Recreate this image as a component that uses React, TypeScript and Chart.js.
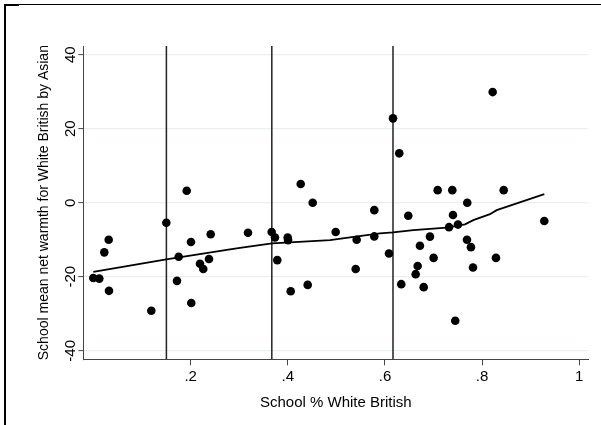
import { useEffect, useRef } from "react";
import { Chart, registerables } from "chart.js";

Chart.register(...registerables);

// School-level observations: share of White British pupils vs. mean net warmth
const schoolShare = [
  -0.0005, 0.0118, 0.0221, 0.0312, 0.0318, 0.1189, 0.1498, 0.1718, 0.1753, 0.1918,
  0.2006, 0.2012, 0.2191, 0.2259, 0.2377, 0.2412, 0.318, 0.3667, 0.3735, 0.3783,
  0.3997, 0.4005, 0.4059, 0.4265, 0.4409, 0.4512, 0.4985, 0.5397, 0.5417, 0.578,
  0.578, 0.6082, 0.6165, 0.6294, 0.6335, 0.648, 0.6632, 0.6673, 0.672, 0.6797,
  0.6926, 0.7001, 0.7085, 0.7318, 0.7386, 0.74, 0.7447, 0.7503, 0.7688, 0.7694,
  0.777, 0.7812, 0.8217, 0.8285, 0.8444, 0.928,
];
const netWarmth = [
  -20.35, -20.5, -13.4, -10.0, -23.8, -29.2, -5.4, -21.1, -14.6, 3.24,
  -10.6, -27.1, -16.5, -17.9, -15.2, -8.5, -8.1, -7.9, -9.4, -15.5,
  -9.4, -10.1, -23.9, 5.05, -22.2, 0.0, -7.9, -17.9, -10.0, -2.0,
  -9.1, -13.7, 22.8, 13.35, -22.0, -3.5, -19.3, -17.1, -11.6, -22.8,
  -9.15, -14.9, 3.4, -6.6, 3.4, -3.3, -31.9, -5.9, -10.0, 0.0,
  -12.0, -17.5, 29.9, -14.9, 3.4, -4.95,
];

// Smoothed (lowess) fit
const smoothX = [-0.0005, 0.1498, 0.281, 0.3015, 0.3674, 0.4868, 0.528, 0.5897, 0.6165, 0.6583, 0.727, 0.7647, 0.7818, 0.8162, 0.83, 0.928];
const smoothY = [-18.7, -15.3, -12.6, -12.2, -11.0, -10.1, -9.35, -8.3, -8.0, -7.4, -6.75, -5.85, -4.7, -3.1, -2.0, 2.35];

// Reference lines on the x axis
const cutoffs = [0.15, 0.367, 0.6165];

const xTicks = [0.2, 0.4, 0.6, 0.8, 1];
const xTickLabels = [".2", ".4", ".6", ".8", "1"];
const yTicks = [-40, -20, 0, 20, 40];
const yTickLabels = ["-40", "-20", "0", "20", "40"];
const xRange = [-0.0211, 1.0186];
const yRange = [-42.3, 42.35];

const FAMILY = '"Liberation Sans", Arial, Helvetica, sans-serif';

export default function App() {
  const ref = useRef<HTMLCanvasElement>(null);

  useEffect(() => {
    const canvas = ref.current;
    if (!canvas) return;

    const framePlugin = {
      id: "frame",
      afterDraw(chart: any) {
        const c = chart.ctx;
        c.save();
        c.fillStyle = "#000";
        c.fillRect(4, 4, 2, 421);
        c.fillRect(4, 4, 597, 1);
        c.fillRect(4, 4, 15, 2);
        c.restore();
      },
    };

    const yLabelPlugin = {
      id: "yLabels",
      afterDraw(chart: any) {
        const ys = chart.scales.y;
        const c = chart.ctx;
        c.save();
        c.font = `15px ${FAMILY}`;
        c.fillStyle = "#000";
        c.textAlign = "center";
        c.textBaseline = "alphabetic";
        const bx = ys.right - 8.5;
        yTicks.forEach((v, i) => {
          const py = ys.getPixelForValue(v);
          c.save();
          c.translate(bx, py);
          c.rotate(-Math.PI / 2);
          c.fillText(yTickLabels[i], 0, 0);
          c.restore();
        });
        c.restore();
      },
    };

    const points = schoolShare.map((x, i) => ({ x, y: netWarmth[i] }));
    const smooth = smoothX.map((x, i) => ({ x, y: smoothY[i] }));

    const chart = new Chart(canvas, {
      type: "scatter",
      data: {
        datasets: [
          {
            type: "scatter",
            data: points,
            pointRadius: 4.3,
            pointHoverRadius: 4.3,
            backgroundColor: "#000",
            borderWidth: 0,
            order: 1,
          } as any,
          {
            type: "line",
            data: smooth,
            borderColor: "#000",
            borderWidth: 1.8,
            pointRadius: 0,
            tension: 0,
            fill: false,
            order: 2,
          } as any,
          ...cutoffs.map((c) => ({
            type: "line",
            data: [
              { x: c, y: yRange[0] },
              { x: c, y: yRange[1] },
            ],
            borderColor: "#222",
            borderWidth: 1.5,
            pointRadius: 0,
            fill: false,
            order: 3,
          })) as any[],
        ],
      },
      options: {
        responsive: false,
        animation: false,
        devicePixelRatio: 1,
        layout: { padding: { left: 0, top: 46, right: 12.7, bottom: 0 } },
        plugins: {
          legend: { display: false },
          tooltip: { enabled: false },
        },
        scales: {
          x: {
            type: "linear",
            min: xRange[0],
            max: xRange[1],
            afterBuildTicks: (s: any) => {
              s.ticks = xTicks.map((v) => ({ value: v }));
            },
            afterFit: (s: any) => {
              s.height = 65.7;
            },
            grid: {
              drawOnChartArea: false,
              drawTicks: true,
              tickLength: 6,
              tickColor: "#444",
              tickWidth: 1,
            },
            border: { display: true, color: "#444", width: 1 },
            ticks: {
              callback: (_v: any, i: number) => xTickLabels[i],
              font: { family: FAMILY, size: 15 },
              color: "#000",
              padding: 3,
              maxRotation: 0,
              autoSkip: false,
            },
            title: {
              display: true,
              text: "School % White British",
              font: { family: FAMILY, size: 15 },
              color: "#000",
              padding: { top: 0, bottom: 13 },
            },
          },
          y: {
            type: "linear",
            min: yRange[0],
            max: yRange[1],
            afterBuildTicks: (s: any) => {
              s.ticks = yTicks.map((v) => ({ value: v }));
            },
            afterFit: (s: any) => {
              s.width = 83.3;
            },
            grid: {
              color: "#e8f0f1",
              lineWidth: 1.2,
              drawTicks: true,
              tickLength: 5,
              tickColor: "#444",
              tickWidth: 1,
            },
            border: { display: true, color: "#444", width: 1 },
            ticks: { display: false },
            title: {
              display: true,
              text: "School mean net warmth for White British by Asian",
              font: { family: FAMILY, size: 14 },
              color: "#000",
              padding: { top: 35.6, bottom: 0 },
            },
          },
        },
      },
      plugins: [framePlugin, yLabelPlugin],
    } as any);

    return () => chart.destroy();
  }, []);

  return (
    <div style={{ position: "fixed", left: 0, top: 0, width: 601, height: 425, background: "#fff" }}>
      <canvas ref={ref} width={601} height={425} style={{ display: "block", width: 601, height: 425 }} />
    </div>
  );
}
